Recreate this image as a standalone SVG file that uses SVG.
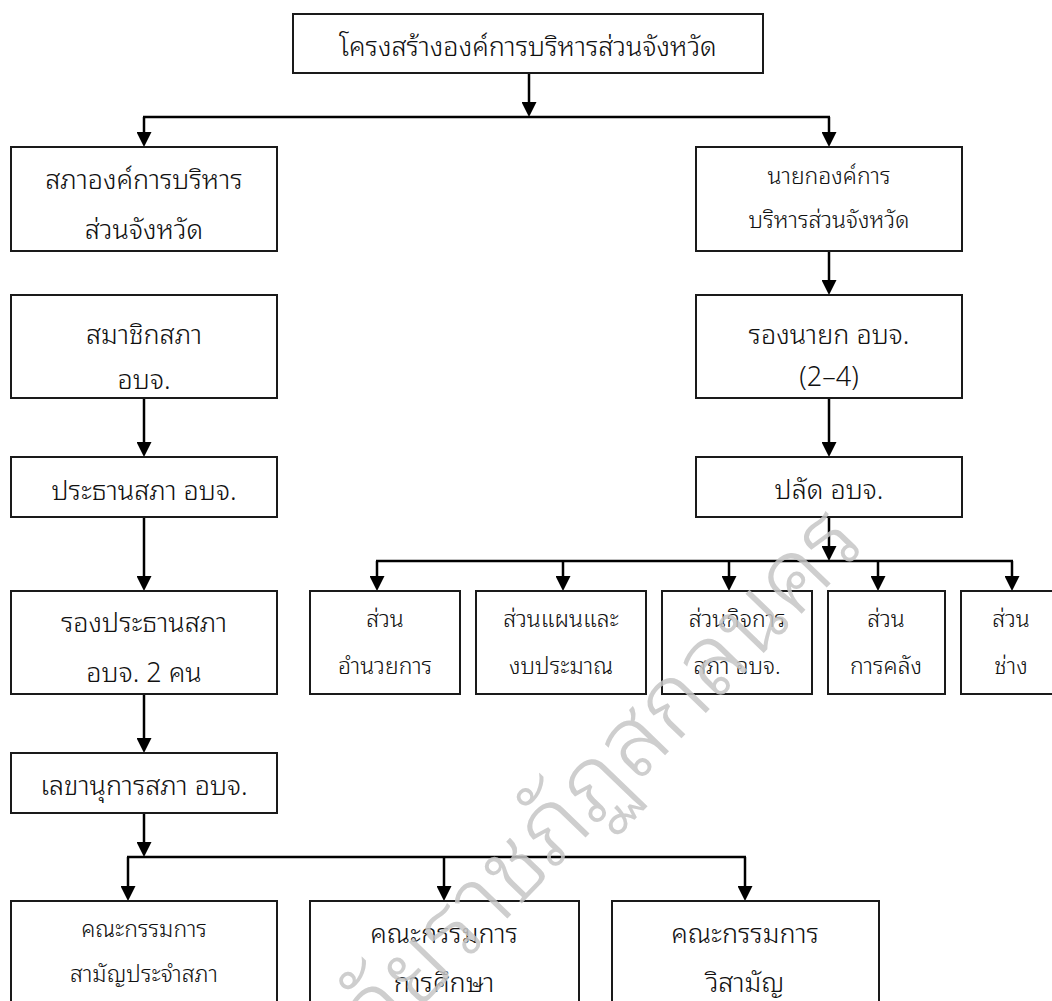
<svg xmlns="http://www.w3.org/2000/svg" width="1052" height="1001" viewBox="0 0 1052 1001">
<defs>
<marker id="ah" markerUnits="userSpaceOnUse" markerWidth="15" markerHeight="15" viewBox="0 0 15 15" refX="11" refY="7.5" orient="auto">
<path d="M0,0 L15,7.5 L0,15 z" fill="#000"/>
</marker>
<style>
.box{fill:#fff;stroke:#1a1a1a;stroke-width:2}
.t{font-family:"Noto Sans Thai Looped","Noto Sans Thai","Noto Sans","DejaVu Sans",sans-serif;font-size:27px;font-weight:300;fill:#111;text-anchor:middle}
.s{font-size:23px}
.c{fill:none;stroke:#000;stroke-width:2.5}
.a{marker-end:url(#ah)}
.wm{font-family:"Noto Sans Thai Looped","Noto Sans Thai","Noto Sans",sans-serif;font-size:98px;fill:#c6c6c6;font-weight:300;opacity:0.85}
</style>
</defs>
<rect width="1052" height="1001" fill="#fff"/>
<g id="connectors">
<line class="c a" x1="529" y1="73" x2="529" y2="113"/>
<line class="c" x1="143" y1="117" x2="830" y2="117"/>
<line class="c a" x1="144" y1="117" x2="144" y2="143"/>
<line class="c a" x1="829" y1="117" x2="829" y2="143"/>
<line class="c a" x1="829" y1="251" x2="829" y2="291"/>
<line class="c a" x1="144" y1="398" x2="144" y2="453"/>
<line class="c a" x1="144" y1="517" x2="144" y2="587"/>
<line class="c a" x1="144" y1="694" x2="144" y2="749"/>
<line class="c a" x1="144" y1="813" x2="144" y2="853"/>
<line class="c" x1="127" y1="857" x2="746" y2="857"/>
<line class="c a" x1="128" y1="857" x2="128" y2="897"/>
<line class="c a" x1="444" y1="857" x2="444" y2="897"/>
<line class="c a" x1="745" y1="857" x2="745" y2="897"/>
<line class="c a" x1="829" y1="398" x2="829" y2="453"/>
<line class="c a" x1="829" y1="517" x2="829" y2="557"/>
<line class="c" x1="376" y1="561" x2="1013" y2="561"/>
<line class="c a" x1="377" y1="561" x2="377" y2="587"/>
<line class="c a" x1="563" y1="561" x2="563" y2="587"/>
<line class="c a" x1="729" y1="561" x2="729" y2="587"/>
<line class="c a" x1="878" y1="561" x2="878" y2="587"/>
<line class="c a" x1="1012" y1="561" x2="1012" y2="587"/>
</g>
<g id="n-top"><rect class="box" x="293" y="14" width="470" height="59"/><text class="t" x="528" y="56">โครงสร้างองค์การบริหารส่วนจังหวัด</text></g>
<g id="n-council"><rect class="box" x="11" y="147" width="266" height="104"/><text class="t" x="144" y="189">สภาองค์การบริหาร</text><text class="t" x="144" y="239">ส่วนจังหวัด</text></g>
<g id="n-members"><rect class="box" x="11" y="295" width="266" height="103"/><text class="t" x="144" y="344">สมาชิกสภา</text><text class="t" x="144" y="389">อบจ.</text></g>
<g id="n-chair"><rect class="box" x="11" y="457" width="266" height="60"/><text class="t" x="144" y="500">ประธานสภา อบจ.</text></g>
<g id="n-vicechair"><rect class="box" x="11" y="591" width="266" height="103"/><text class="t" x="144" y="632">รองประธานสภา</text><text class="t" x="144" y="682">อบจ. 2 คน</text></g>
<g id="n-secretary"><rect class="box" x="11" y="753" width="266" height="60"/><text class="t" x="144" y="795">เลขานุการสภา อบจ.</text></g>
<g id="n-comm1"><rect class="box" x="11" y="901" width="266" height="120"/><text class="t s" x="144" y="937">คณะกรรมการ</text><text class="t s" x="144" y="982">สามัญประจำสภา</text></g>
<g id="n-comm2"><rect class="box" x="310" y="901" width="269" height="120"/><text class="t" x="444" y="943">คณะกรรมการ</text><text class="t" x="444" y="992">การศึกษา</text></g>
<g id="n-comm3"><rect class="box" x="612" y="901" width="267" height="120"/><text class="t" x="745" y="943">คณะกรรมการ</text><text class="t" x="745" y="992">วิสามัญ</text></g>
<g id="n-mayor"><rect class="box" x="696" y="147" width="266" height="104"/><text class="t s" x="829" y="184">นายกองค์การ</text><text class="t s" x="829" y="228">บริหารส่วนจังหวัด</text></g>
<g id="n-vicemayor"><rect class="box" x="696" y="295" width="266" height="103"/><text class="t" x="829" y="344">รองนายก อบจ.</text><text class="t" x="829" y="386">(2–4)</text></g>
<g id="n-clerk"><rect class="box" x="696" y="457" width="266" height="60"/><text class="t" x="829" y="499">ปลัด อบจ.</text></g>
<g id="n-d1"><rect class="box" x="310" y="591" width="150" height="103"/><text class="t s" x="385" y="627">ส่วน</text><text class="t s" x="385" y="674">อำนวยการ</text></g>
<g id="n-d2"><rect class="box" x="476" y="591" width="170" height="103"/><text class="t s" x="561" y="627">ส่วนแผนและ</text><text class="t s" x="561" y="674">งบประมาณ</text></g>
<g id="n-d3"><rect class="box" x="662" y="591" width="150" height="103"/><text class="t s" x="737" y="627">ส่วนกิจการ</text><text class="t s" x="737" y="674">สภา อบจ.</text></g>
<g id="n-d4"><rect class="box" x="828" y="591" width="117" height="103"/><text class="t s" x="886" y="627">ส่วน</text><text class="t s" x="886" y="674">การคลัง</text></g>
<g id="n-d5"><rect class="box" x="961" y="591" width="100" height="103"/><text class="t s" x="1011" y="627">ส่วน</text><text class="t s" x="1011" y="674">ช่าง</text></g>
<g id="watermark"><text class="wm" x="868" y="545" text-anchor="end" transform="rotate(-46 868 545)">มหาวิทยาลัยราชภัฏสกลนคร</text></g>
</svg>
